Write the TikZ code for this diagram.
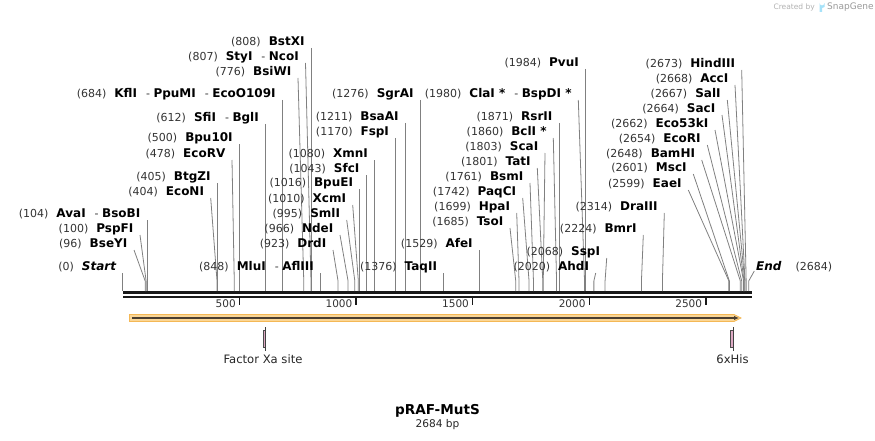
\documentclass[tikz,border=0pt]{standalone}
\usepackage{fontspec}
\setmainfont{DejaVu Sans}
\usetikzlibrary{arrows.meta}
\tikzset{
    sitelabel/.style={anchor=east,inner sep=0pt,text=black!80,
        font=\fontsize{11}{13}\selectfont},   % (position) + enzyme name
    leader/.style={draw=leadercolor,line width=0.8pt}
}
\newcommand{\en}[1]{{\fontsize{12}{14}\selectfont\bfseries\color{black}#1}}

\begin{document}
\begin{tikzpicture}[x=1pt,y=-1pt]
  % Colors
    \colorlet{leadercolor}{black!50}
    \colorlet{barcolor}{black!90}
    \definecolor{bandfill}{RGB}{250,214,150}
    \definecolor{bandedge}{RGB}{244,184,86}
    \definecolor{featcolor}{RGB}{74,62,48}
    \definecolor{markfill}{RGB}{222,170,196}

  % Styles
    \tikzstyle{ticklabel}=[anchor=east,inner sep=0pt,text=black!80,font=\fontsize{10.5}{12}\selectfont]
    \tikzstyle{featlabel}=[inner sep=0pt,text=black!85,font=\fontsize{11.6}{13}\selectfont]
    \tikzstyle{markbox}=[fill=markfill,draw=black!70,line width=0.6pt]

    \useasboundingbox (0,0) rectangle (875,441);

  % The graphic
  % watermark
    \node[inner sep=0pt,anchor=east,text=black!30,font=\fontsize{7.5}{9}\selectfont] (made) at (815,7.5) {Created by};
    \fill[cyan!35] (819.5,12) -- (819.5,3) arc (180:0:2.5) -- (824.5,7) -- (822,8) -- (822,12) -- cycle;
    \node[inner sep=0pt,anchor=west,text=black!40,font=\fontsize{9}{10}\selectfont] (sg) at (827,7.5) {SnapGene};

  % sequence bar
    \coordinate (barL) at (123,292.5);
    \coordinate (barR) at (751.5,292.5);
    \draw[barcolor,line width=3pt] (barL) -- (barR);
    \draw[barcolor,line width=2pt] ([yshift=-4.5pt]barL) -- ([yshift=-4.5pt]barR);

    \foreach \t in {500,1000,1500,2000,2500}{
      \pgfmathsetmacro\kx{122.8+0.2332*\t}
      \draw[barcolor,line width=1.4pt] (\kx,296) -- (\kx,305);
      \node[ticklabel] (k\t) at (\kx-3.5,303.5) {\t};
    }

  % enzyme sites: position / leader top x / label y / names
    \foreach \p/\lx/\ly/\txt in {
      0/123/267/{\en{\itshape Start}},
      96/134/244/{\en{BseYI}},
      100/140/229/{\en{PspFI}},
      104/147.3/214/{\en{AvaI}\hspace{9pt}-~\en{BsoBI}},
      404/210.7/192/{\en{EcoNI}},
      405/218.3/177/{\en{BtgZI}},
      478/232/154/{\en{EcoRV}},
      500/240/138/{\en{Bpu10I}},
      612/266.7/118/{\en{SfiI}\hspace{9pt}-~\en{BglI}},
      684/283/94/{\en{KflI}\hspace{9pt}-~\en{PpuMI}\hspace{9pt}-~\en{EcoO109I}},
      776/298/72/{\en{BsiWI}},
      807/305.5/57/{\en{StyI}\hspace{9pt}-~\en{NcoI}},
      808/312/42/{\en{BstXI}},
      848/321/267/{\en{MluI}\hspace{9pt}-~\en{AflIII}},
      923/333/244/{\en{DrdI}},
      966/340/229/{\en{NdeI}},
      995/346.7/214/{\en{SmlI}},
      1010/352.7/199/{\en{XcmI}},
      1016/360/183/{\en{BpuEI}},
      1043/367.3/169/{\en{SfcI}},
      1080/375/154/{\en{XmnI}},
      1170/396.7/132/{\en{FspI}},
      1211/406.7/117/{\en{BsaAI}},
      1276/421.7/94/{\en{SgrAI}},
      1376/444.3/267/{\en{TaqII}},
      1529/480.3/244/{\en{AfeI}},
      1685/510/222/{\en{TsoI}},
      1699/516.7/207/{\en{HpaI}},
      1742/522.7/192/{\en{PaqCI}},
      1761/530/177/{\en{BsmI}},
      1801/537.3/162/{\en{TatI}},
      1803/545/147/{\en{ScaI}},
      1860/553.3/132/{\en{BclI *}},
      1871/560/117/{\en{RsrII}},
      1980/578.3/94/{\en{ClaI *}\hspace{9pt}-~\en{BspDI *}},
      1984/586.7/63/{\en{PvuI}},
      2020/595.7/267/{\en{AhdI}},
      2068/606.7/252/{\en{SspI}},
      2224/643.3/229/{\en{BmrI}},
      2314/664.3/207/{\en{DraIII}},
      2599/688.3/184/{\en{EaeI}},
      2601/693.3/168/{\en{MscI}},
      2648/701.7/154/{\en{BamHI}},
      2654/707.3/139/{\en{EcoRI}},
      2662/715/124/{\en{Eco53kI}},
      2664/722/109/{\en{SacI}},
      2667/727.3/94/{\en{SalI}},
      2668/735/79/{\en{AccI}},
      2673/741.7/64/{\en{HindIII}}}{
      \pgfmathsetmacro\sx{122.8+0.2332*\p}
      \pgfmathsetmacro\tx{abs(\lx-\sx)<1.6 ? \sx : \lx}
      \coordinate (t\p) at (\tx,\ly+6);
      \coordinate (s\p) at (\sx,281);
      \coordinate (b\p) at (\sx,291);
      \node[sitelabel] (l\p) at ([xshift=-6.5pt,yshift=6pt]t\p) {(\p)\hspace{8pt}\txt};
      \draw[leader] (t\p) -- (s\p) -- (b\p);
    }

  % end of sequence
    \coordinate (t2684) at (754.3,271);
    \coordinate (s2684) at (748.7,281);
    \coordinate (b2684) at (748.7,291);
    \node[sitelabel,anchor=west] (l2684) at (756,267) {\en{\itshape End}\hspace{14pt}(2684)};
    \draw[leader] (t2684) -- (s2684) -- (b2684);

  % feature arrow
    \coordinate (fA) at (132,318);
    \coordinate (fB) at (739,318);
    \filldraw[fill=bandfill,draw=bandedge,line width=0.8pt]
      (129.5,314.5) -- (734,314.5) -- (741,318) -- (734,321.5) -- (129.5,321.5) -- cycle;
    \draw[featcolor,line width=1.6pt,-{Latex[length=5pt,width=4.5pt]}] (fA) -- (fB);

  % features below
    \draw[markbox] (262.8,330) rectangle (265.5,347);
    \draw[black!75,line width=0.7pt] (265.5,327) -- (265.5,351);
    \node[featlabel] (fxa) at (263,359.5) {Factor Xa site};

    \draw[markbox] (730.5,330) rectangle (733.3,347);
    \draw[black!75,line width=0.7pt] (733.3,327) -- (733.3,351);
    \node[featlabel] (his) at (732.5,359.5) {6xHis};

  % title
    \node[inner sep=0pt,font=\fontsize{13.6}{15}\selectfont\bfseries] (name) at (437.5,410.5) {pRAF-MutS};
    \node[inner sep=0pt,text=black!85,font=\fontsize{10.6}{12}\selectfont] (len) at (437.5,424.5) {2684 bp};
\end{tikzpicture}
\end{document}
